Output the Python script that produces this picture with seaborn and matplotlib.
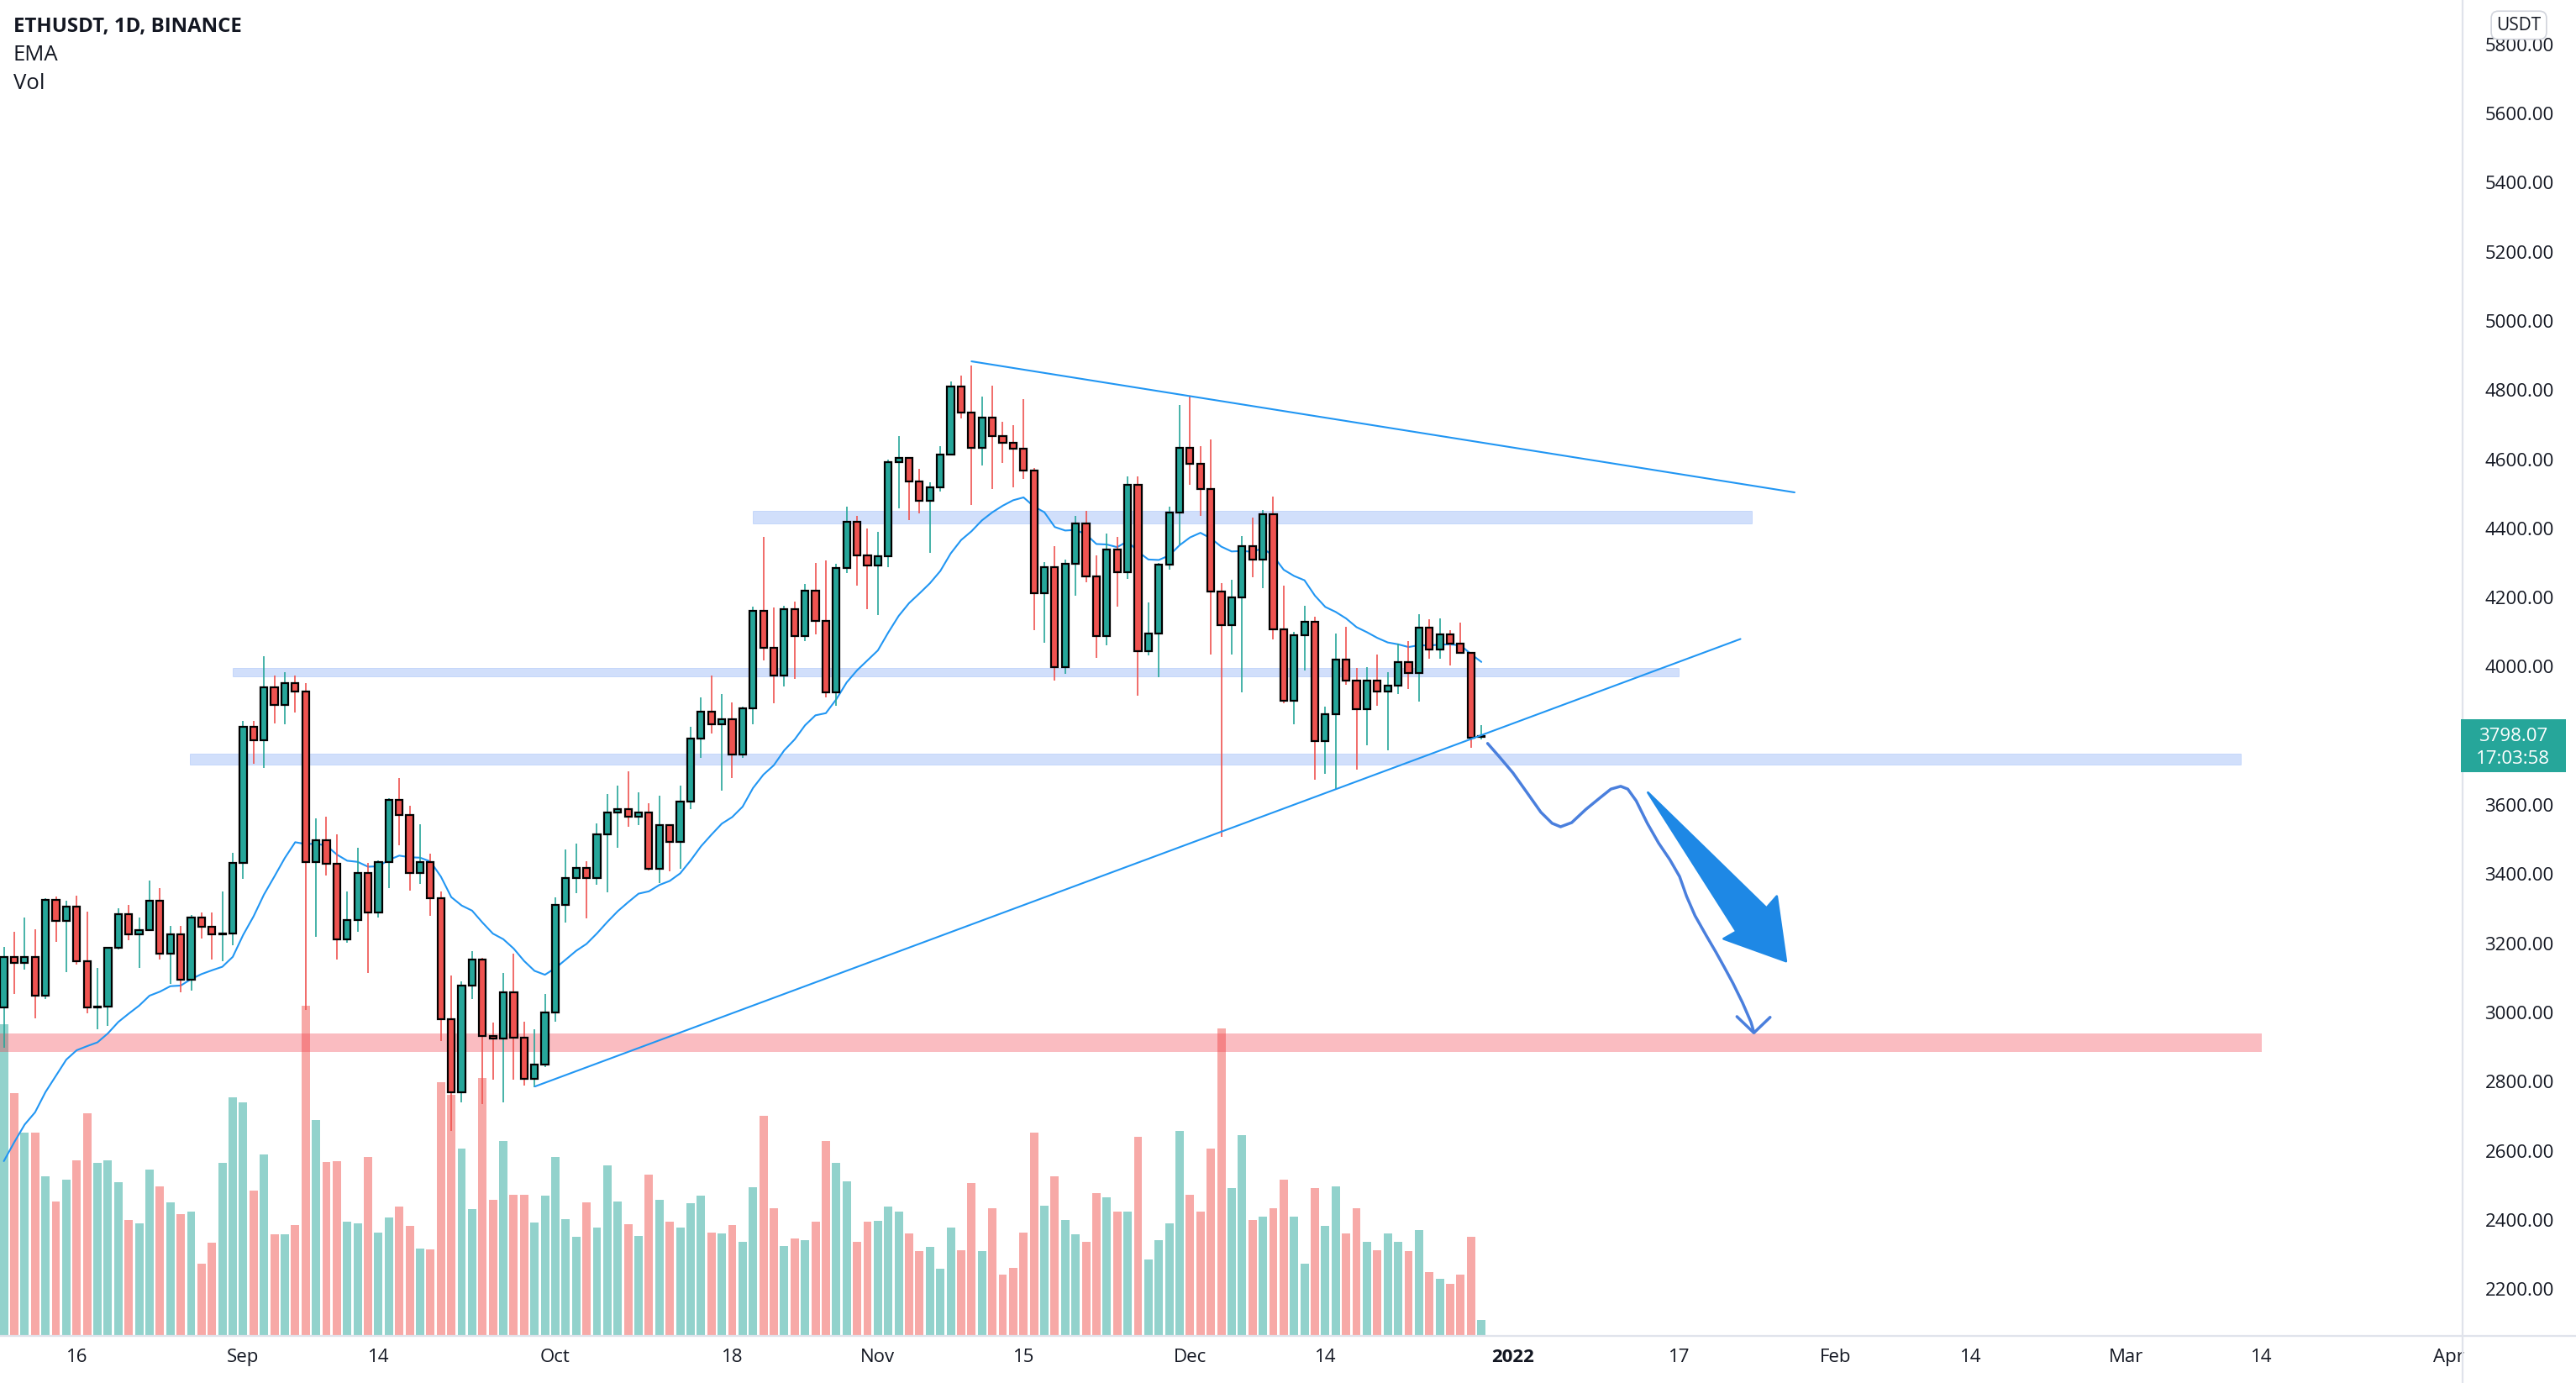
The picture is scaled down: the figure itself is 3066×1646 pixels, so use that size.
import numpy as np
import pandas as pd
import matplotlib
matplotlib.use("Agg")
import matplotlib.pyplot as plt
import matplotlib.dates as mdates
from matplotlib.patches import Polygon, Rectangle
from matplotlib.lines import Line2D
from matplotlib.transforms import blended_transform_factory
import seaborn as sns

# ---------------- data (ETHUSDT daily, Binance) ----------------
start_date = "2021-08-09"

opens = [
    # Aug 9-31
    3015, 3161, 3144, 3161, 3048, 3325, 3265, 3307, 3149, 3015, 3018, 3186, 3285, 3226, 3239, 3322, 3171, 3226, 3095, 3275, 3248, 3226, 3229,
    # Sep
    3433, 3827, 3788, 3940, 3889, 3953, 3928, 3436, 3498, 3431, 3211, 3268, 3404, 3288, 3436, 3615, 3572, 3404, 3436, 3330, 2980, 2769, 3078, 3154, 2932, 2925, 3058, 2927, 2809, 2849,
    # Oct
    3001, 3310, 3388, 3419, 3389, 3516, 3578, 3587, 3566, 3578, 3415, 3543, 3492, 3609, 3793, 3870, 3833, 3849, 3747, 3880, 4162, 4055, 3974, 4167, 4088, 4220, 4133, 3925, 4285, 4419, 4323,
    # Nov
    4292, 4320, 4591, 4603, 4535, 4479, 4519, 4614, 4810, 4734, 4634, 4721, 4668, 4647, 4631, 4568, 4213, 4289, 3998, 4297, 4413, 4262, 4088, 4340, 4272, 4525, 4045, 4096, 4296, 4446,
    # Dec 1-29
    4633, 4587, 4514, 4218, 4121, 4200, 4348, 4310, 4441, 4108, 3901, 4091, 4131, 3784, 3862, 4021, 3960, 3876, 3960, 3927, 3945, 4013, 3982, 4113, 4050, 4093, 4066, 4039, 3797,
]
highs = [
    3190, 3234, 3275, 3240, 3330, 3335, 3322, 3338, 3292, 3128, 3189, 3302, 3310, 3275, 3382, 3360, 3249, 3251, 3282, 3290, 3288, 3350, 3461,
    3844, 3842, 4030, 3975, 3983, 3975, 3953, 3562, 3567, 3516, 3350, 3476, 3433, 3440, 3619, 3678, 3597, 3545, 3458, 3350, 3108, 3091, 3177, 3159, 2970, 3113, 3169, 2974, 2952, 3053,
    3334, 3471, 3489, 3438, 3547, 3632, 3657, 3697, 3636, 3606, 3628, 3545, 3657, 3826, 3910, 3974, 3920, 3896, 3885, 4173, 4376, 4172, 4175, 4188, 4240, 4300, 4308, 4297, 4462, 4435, 4400,
    4390, 4600, 4668, 4606, 4571, 4533, 4638, 4824, 4842, 4871, 4780, 4812, 4709, 4698, 4774, 4575, 4302, 4348, 4310, 4437, 4451, 4321, 4386, 4376, 4551, 4551, 4186, 4300, 4462, 4757,
    4782, 4638, 4658, 4242, 4251, 4378, 4430, 4454, 4492, 4234, 4101, 4177, 4144, 3884, 4096, 4115, 3996, 3998, 4034, 3985, 4066, 4075, 4151, 4137, 4140, 4106, 4128, 4039, 3830,
]
lows = [
    2897, 3053, 3123, 2983, 3038, 3204, 3116, 3139, 2998, 2952, 2962, 3181, 3209, 3129, 3235, 3154, 3083, 3058, 3063, 3214, 3154, 3149, 3194,
    3386, 3718, 3708, 3836, 3834, 3867, 3008, 3219, 3396, 3154, 3202, 3234, 3113, 3275, 3360, 3484, 3352, 3372, 3280, 2917, 2657, 2741, 3038, 2736, 2806, 2741, 2806, 2789, 2784, 2841,
    2972, 3261, 3346, 3272, 3370, 3348, 3476, 3536, 3541, 3411, 3375, 3408, 3415, 3589, 3737, 3806, 3641, 3679, 3736, 3834, 4017, 3893, 3942, 3965, 4075, 4093, 3912, 3887, 4270, 4234, 4167,
    4150, 4289, 4459, 4424, 4443, 4330, 4506, 4611, 4719, 4468, 4582, 4513, 4589, 4519, 4544, 4106, 4068, 3960, 3980, 4204, 4245, 4025, 4063, 4173, 4253, 3917, 4032, 3969, 4281, 4354,
    4527, 4437, 4036, 3508, 4036, 3925, 4258, 4227, 4079, 3893, 3833, 3990, 3672, 3689, 3646, 3947, 3703, 3773, 3887, 3757, 3920, 3936, 3898, 4023, 4023, 4004, 4037, 3765, 3790,
]
closes = [
    3161, 3144, 3161, 3048, 3325, 3265, 3307, 3149, 3015, 3018, 3186, 3285, 3226, 3239, 3322, 3171, 3226, 3095, 3275, 3248, 3226, 3229, 3433,
    3827, 3788, 3940, 3889, 3953, 3928, 3436, 3498, 3431, 3211, 3268, 3404, 3288, 3436, 3615, 3572, 3404, 3436, 3330, 2980, 2769, 3078, 3154, 2932, 2925, 3058, 2927, 2809, 2849, 3001,
    3310, 3388, 3419, 3389, 3516, 3578, 3587, 3566, 3578, 3415, 3543, 3492, 3609, 3793, 3870, 3833, 3849, 3747, 3880, 4162, 4055, 3974, 4167, 4088, 4220, 4133, 3925, 4285, 4419, 4323, 4292,
    4320, 4591, 4603, 4535, 4479, 4519, 4614, 4810, 4734, 4634, 4721, 4668, 4647, 4631, 4568, 4213, 4289, 3998, 4297, 4413, 4262, 4088, 4340, 4272, 4525, 4045, 4096, 4296, 4446, 4633,
    4587, 4514, 4218, 4121, 4200, 4348, 4310, 4441, 4108, 3901, 4091, 4131, 3784, 3862, 4021, 3960, 3876, 3960, 3927, 3945, 4013, 3982, 4113, 4050, 4093, 4066, 4039, 3795, 3798.07,
]
volumes = [  # thousand ETH
    1484, 1157, 967, 969, 760, 640, 745, 837, 1061, 823, 836, 733, 553, 537, 793, 713, 637, 581, 593, 345, 443, 823, 1137,
    1113, 693, 865, 483, 483, 527, 1573, 1029, 829, 833, 545, 537, 853, 493, 565, 617, 525, 417, 413, 1209, 1150, 893, 604, 1227, 649, 927, 673, 673, 540, 669,
    853, 557, 473, 636, 517, 813, 640, 533, 477, 767, 649, 543, 517, 633, 667, 493, 487, 529, 449, 709, 1049, 609, 429, 463, 457, 544, 929, 825, 737, 449, 544,
    549, 617, 591, 487, 403, 425, 320, 517, 409, 729, 403, 609, 293, 325, 493, 969, 620, 761, 553, 483, 449, 680, 660, 591, 591, 949, 363, 457, 537, 977,
    671, 593, 893, 1463, 705, 957, 553, 567, 609, 743, 567, 345, 703, 523, 713, 487, 609, 449, 407, 487, 449, 403, 503, 305, 273, 249, 293, 473, 77,
]
ema_span = 20
ema_seed = 2570          # EMA value on the first visible day
last_price_label = "3798.07"
countdown_label = "17:03:58"

tick_dates = ["2021-08-16", "2021-09-01", "2021-09-14", "2021-10-01", "2021-10-18", "2021-11-01",
              "2021-11-15", "2021-12-01", "2021-12-14", "2022-01-01", "2022-01-17", "2022-02-01",
              "2022-02-14", "2022-03-01", "2022-03-14", "2022-04-01"]
tick_labels = ["16", "Sep", "14", "Oct", "18", "Nov", "15", "Dec", "14", "2022", "17", "Feb", "14", "Mar", "14", "Apr"]
price_ticks = list(range(2200, 5801, 200))
hidden_price_ticks = [3800]   # covered by the last-price badge in the reference

# drawings, anchored as (days after 2021-09-01, price)
ref_day = "2021-09-01"
zones_blue = [  # (day_start, day_end, price_low, price_high)
    (49.0, 145.0, 4414, 4451),
    (-1.0, 138.0, 3973, 3995),
    (-5.1, 192.0, 3716, 3749),
]
zone_red = (-40.0, 194.0, 2886, 2939)
trend_upper = [(70.0, 4883), (149.1, 4504)]
trend_lower = [(28.05, 2786), (143.9, 4080)]
path_days = [119.6, 120.68, 122.03, 123.38, 124.72, 125.8, 126.61, 127.68, 129.03, 130.37, 131.45, 132.39,
             133.07, 133.88, 134.95, 136.03, 137.11, 138.05, 138.72, 139.53, 140.6, 141.55, 142.36, 143.17,
             144.1, 144.91, 145.19]
path_prices = [3778, 3741, 3693, 3636, 3579, 3547, 3537, 3549, 3587, 3620, 3646, 3654,
               3646, 3612, 3547, 3490, 3442, 3393, 3336, 3280, 3223, 3174, 3130, 3085,
               3028, 2972, 2943]
head_days = [143.56, 145.19, 146.75]
head_prices = [2988, 2941, 2986]
big_arrow_days = [135.01, 146.4, 147.39, 148.28, 142.28, 143.51]
big_arrow_prices = [3636, 3302, 3336, 3148, 3213, 3234]

# ---------------- derived ----------------
dates = pd.date_range(start_date, periods=len(closes), freq="D")
xd = mdates.date2num(dates)
o = np.array(opens, float); h = np.array(highs, float)
l = np.array(lows, float); c = np.array(closes, float)
up = c >= o
UP, DOWN = "#26a69a", "#ef5350"
cc = np.where(up, UP, DOWN)
vc = np.where(up, "#92d2cc", "#f7a9a7")
ema = pd.Series([ema_seed] + list(closes[1:])).ewm(span=ema_span, adjust=False).mean()
base = mdates.date2num(pd.Timestamp(ref_day))

W, H = 3066, 1646
sns.set_theme(style="white")
plt.rcParams["font.family"] = ["Open Sans", "DejaVu Sans"]

fig = plt.figure(figsize=(W / 100, H / 100), dpi=100)
fig.patch.set_facecolor("white")
axb = 1590
ax = fig.add_axes([0, (H - axb) / H, 2931 / W, axb / H])
ax2 = ax.twinx()
ax.set_zorder(ax2.get_zorder() + 1)
ax.patch.set_visible(False)

# volume
ax2.bar(xd, volumes, width=0.8, color=vc, linewidth=0)
ax2.set_ylim(0, 6360)
ax2.set_yticks([])
for s in ax2.spines.values():
    s.set_visible(False)

# zones
for d0, d1, p0, p1 in zones_blue:
    ax.fill_between([base + d0, base + d1], p0, p1, facecolor="#2f6ff0", alpha=0.22,
                    edgecolor="#2f6ff0", linewidth=0.6, zorder=1)
d0, d1, p0, p1 = zone_red
ax.fill_between([base + d0, base + d1], p0, p1, facecolor="#f23645", alpha=0.33, linewidth=0, zorder=1)

# EMA
sns.lineplot(x=xd, y=ema.values, ax=ax, color="#2196f3", linewidth=1.5, zorder=2)

# candles
ax.vlines(xd, l, h, colors=cc, linewidth=1.2, zorder=3)
body_lo = np.minimum(o, c)
body_h = np.maximum(np.abs(c - o), 2.0)
ax.bar(xd, body_h, bottom=body_lo, width=0.66, color=cc, edgecolor="black", linewidth=1.6, zorder=4)

# trend lines
for seg in (trend_upper, trend_lower):
    ax.plot([base + seg[0][0], base + seg[1][0]], [seg[0][1], seg[1][1]], color="#2196f3", linewidth=1.5, zorder=5)

# hand-drawn path + arrow head
ax.plot(base + np.array(path_days), path_prices, color="#4a7fdd", linewidth=2.5,
        solid_capstyle="round", solid_joinstyle="round", zorder=6)
ax.plot(base + np.array(head_days), head_prices, color="#4a7fdd", linewidth=2.5,
        solid_capstyle="round", solid_joinstyle="round", zorder=6)
ax.add_patch(Polygon(list(zip(base + np.array(big_arrow_days), big_arrow_prices)), closed=True,
                     facecolor="#1e88e5", edgecolor="#1e88e5", linewidth=2, joinstyle="round", zorder=6))

# axes ranges
ax.set_xlim(base - 23.37, base + 213.3)
ax.set_ylim(2064.4, 5928)
for s in ax.spines.values():
    s.set_visible(False)
ax.grid(False)

ax.yaxis.tick_right()
ax.set_yticks(price_ticks)
ax.set_yticklabels(["" if v in hidden_price_ticks else f"{v:.2f}" for v in price_ticks])
ax.tick_params(axis="y", length=0, pad=19, labelsize=16, labelcolor="#131722")
ax.set_xticks(mdates.date2num(pd.to_datetime(tick_dates)))
ax.set_xticklabels(tick_labels)
ax.tick_params(axis="x", length=0, pad=11, labelsize=16, labelcolor="#131722")
for t in ax.get_xticklabels():
    if t.get_text() == "2022":
        t.set_fontweight("bold")
ax.set_xlabel(""); ax.set_ylabel("")

# frame lines
fig.add_artist(Line2D([2931 / W, 2931 / W], [0, 1], transform=fig.transFigure, color="#e0e3eb", linewidth=1.6))
fig.add_artist(Line2D([0, 1], [(H - axb) / H] * 2, transform=fig.transFigure, color="#e0e3eb", linewidth=1.6))

# header text
fig.text(16 / W, 1 - 32 / H, "ETHUSDT, 1D, BINANCE", fontsize=17.3, fontweight="bold", va="center", color="#131722")
fig.text(16 / W, 1 - 66 / H, "EMA", fontsize=18.5, va="center", color="#131722")
fig.text(16 / W, 1 - 99 / H, "Vol", fontsize=18.5, va="center", color="#131722")

# USDT badge
fig.text(2998 / W, 1 - 30 / H, "USDT", fontsize=15, ha="center", va="center", color="#131722",
         bbox=dict(boxstyle="round,pad=0.3,rounding_size=0.4", fc="white", ec="#d1d4dc", lw=1.2), zorder=10)

# last price badge
tr = blended_transform_factory(fig.transFigure, ax.transData)
last = closes[-1]
fig.add_artist(Rectangle((2929 / W, last - 103), 125 / W, 153, transform=tr, facecolor=UP, edgecolor="none", zorder=10))
fig.text(2991 / W, last, last_price_label, transform=tr, fontsize=16, ha="center", va="center", color="white", zorder=11)
fig.text(2991 / W, last - 66, countdown_label, transform=tr, fontsize=16, ha="center", va="center", color="white", zorder=11)

fig.savefig("out.png", dpi=100, facecolor="white")
